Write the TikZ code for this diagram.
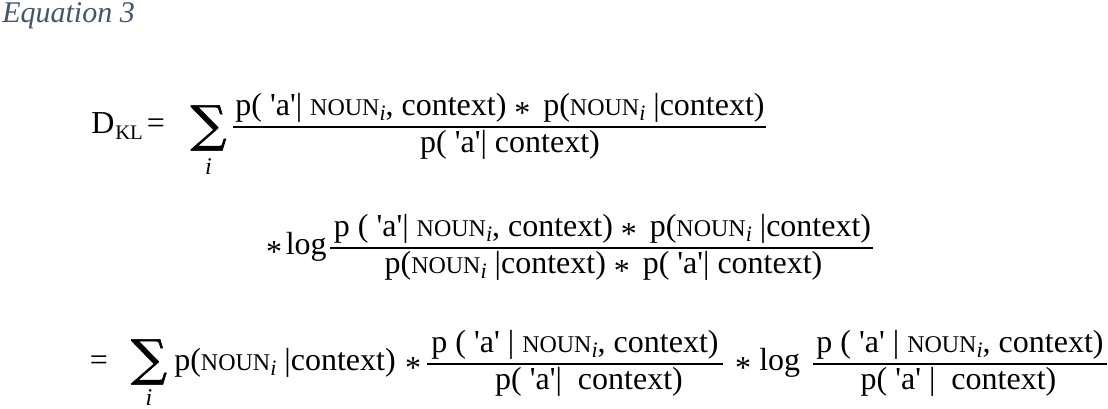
\documentclass[tikz,border=0pt]{standalone}
\usepackage{fontspec}
\newfontfamily\eqf{Liberation Serif}
\newfontfamily\symf{DejaVu Serif}[FakeBold=1.2]
\definecolor{capblue}{HTML}{44546A}
\newcommand\myast{\raisebox{-0.23em}{*}}
\newcommand\nounsc{{\fontsize{18}{20}\selectfont NOUN}}
\newcommand\subi{\raisebox{-0.14em}{\fontsize{16.5}{18}\selectfont\itshape i}}
\newcommand\NOUNi{\nounsc\subi}
\newcommand\bigsum{\resizebox*{27pt}{34pt}{\symf ∑}}
\tikzset{
  eq/.style={font=\eqf\fontsize{24}{28}\selectfont, inner sep=0pt, anchor=base},
  subtext/.style={font=\eqf\fontsize{15.5}{17}\selectfont, inner sep=0pt, anchor=base west},
  idx/.style={font=\eqf\itshape\fontsize{18}{20}\selectfont, inner sep=0pt, anchor=base},
  fracbar/.style={line width=1.4pt},
  capt/.style={font=\eqf\itshape\fontsize{22.5}{26}\selectfont, text=capblue, inner sep=0pt, anchor=base west}
}
\begin{document}
\begin{tikzpicture}[x=0.75pt,y=-0.75pt]
\fill[white] (0,0) rectangle (1108,409);
\useasboundingbox (0,0) rectangle (1108,409);
% caption
\node[capt] (cap) at (2,23) {Equation 3};
% ---- line 1
\node[eq,anchor=base west] (D) at (91,134) {D};
\node[subtext,xshift=0.3pt,yshift=-4.5pt] (KL) at (D.base east) {KL};
\node[eq] (eqa) at (156,134) {=};
\node[inner sep=0pt] (S1) at (208.5,128) {\bigsum};
\node[idx] (i1) at (208.5,175) {i};
\draw[fracbar] (233,127) -- (766,127);
\node[eq] (n1) at (500,116) {p( 'a'| \NOUNi, context) \myast\hspace{0.4em}p(\NOUNi{} |context)};
\node[eq] (d1) at (510,153) {p( 'a'| context)};
% ---- line 2
\node[eq] (st2) at (274,255) {\myast};
\node[eq,anchor=base east] (log2) at (327,255) {log};
\draw[fracbar] (330,248) -- (873,248);
\node[eq] (n2) at (602.5,237) {p ( 'a'| \NOUNi, context) \myast\hspace{0.4em}p(\NOUNi{} |context)};
\node[eq] (d2) at (603.5,274) {p(\NOUNi{} |context) \myast\hspace{0.4em}p( 'a'| context)};
% ---- line 3
\node[eq] (eqb) at (99,371) {=};
\node[inner sep=0pt] (S3) at (149,362) {\bigsum};
\node[idx] (i3) at (149,406) {i};
\node[eq] (t3) at (285,371) {p(\NOUNi{} |context)};
\node[eq] (st3a) at (413,371) {\myast};
\draw[fracbar] (427,364) -- (723,364);
\node[eq] (n3a) at (575,353) {p ( 'a' | \NOUNi, context)};
\node[eq] (d3a) at (589,390) {p( 'a'|\ \ context)};
\node[eq] (st3b) at (743,371) {\myast};
\node[eq,anchor=base west] (log3) at (759,371) {log};
\draw[fracbar] (813,364) -- (1107,364);
\node[eq] (n3b) at (960,353) {p ( 'a' | \NOUNi, context)};
\node[eq] (d3b) at (958.5,390) {p( 'a' |\ \ context)};
\end{tikzpicture}
\end{document}
